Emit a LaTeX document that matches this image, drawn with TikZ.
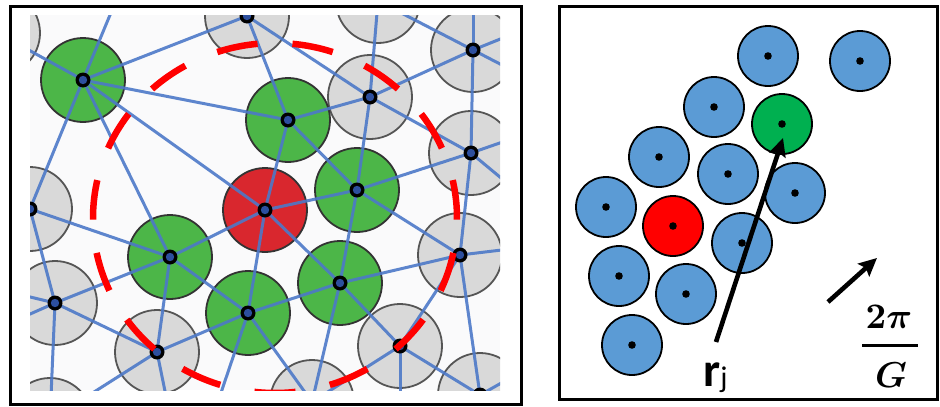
\documentclass[tikz,border=0pt]{standalone}
\usepackage{fontspec}
\usepackage{graphicx}
\usepackage{bm}
\newfontfamily\calibri{Carlito}
\usetikzlibrary{arrows.meta}
\definecolor{lgray}{HTML}{D9D9D9}
\definecolor{lgrayedge}{HTML}{555555}
\definecolor{lgreen}{HTML}{4CB648}
\definecolor{lred}{HTML}{D9272E}
\definecolor{darkedge}{HTML}{333333}
\definecolor{bondblue}{HTML}{4D79C8}
\definecolor{siteblue}{HTML}{2D4F9E}
\definecolor{dashred}{HTML}{FF0000}
\definecolor{panelbg}{HTML}{FAFAFB}
\definecolor{rblue}{HTML}{5B9BD5}
\definecolor{rgreen}{HTML}{00B050}
\definecolor{rred}{HTML}{FF0000}
\begin{document}
\begin{tikzpicture}[x=1pt,y=-1pt,
  cell/.style={circle, minimum size=84pt, inner sep=0pt, line width=1.8pt},
  graycell/.style={cell, fill=lgray, draw=lgrayedge},
  greencell/.style={cell, fill=lgreen, draw=darkedge},
  redcell/.style={cell, fill=lred, draw=darkedge},
  bond/.style={draw=bondblue, line width=3pt, opacity=0.9},
  atom/.style={circle, minimum size=60pt, inner sep=0pt, line width=1.8pt, draw=black},
  blueatom/.style={atom, fill=rblue},
  greenatom/.style={atom, fill=rgreen},
  redatom/.style={atom, fill=rred},
  frame/.style={draw=black, line width=3pt},
  vec/.style={line width=4.6pt, -{Stealth[length=18pt,width=17pt,inset=3pt]}},
  reddash/.style={draw=dashred, line width=6.5pt},
]
\useasboundingbox (0,0) rectangle (940,407);
\fill[white] (0,0) rectangle (940,407);

% ---------------- left panel ----------------
\begin{scope}
\clip (30,15) rectangle (500,390);
\fill[panelbg] (30,15) rectangle (500,390);
\node[graycell] (A) at (-2,33) {};
\node[graycell] (C) at (247,16) {};
\node[graycell] (D) at (378,1) {};
\node[graycell] (E) at (473,50) {};
\node[graycell] (F) at (370,97) {};
\node[graycell] (H) at (471,153) {};
\node[graycell] (J) at (30,209) {};
\node[graycell] (M) at (460,255) {};
\node[graycell] (N) at (55,303) {};
\node[graycell] (P) at (157,352) {};
\node[graycell] (Q) at (400,346) {};
\node[graycell] (S) at (50,420) {};
\node[graycell] (T) at (312,402) {};
\node[graycell] (U) at (480,395) {};
\node[greencell] (B) at (83,80) {};
\node[greencell] (G) at (288,120) {};
\node[greencell] (I) at (357,190) {};
\node[greencell] (K) at (170,257) {};
\node[greencell] (L) at (340,283) {};
\node[greencell] (O) at (248,313) {};
\node[redcell] (R) at (265,210) {};
\coordinate (g1) at (137,-50);
\coordinate (gN1) at (-40,280);
\coordinate (gN2) at (-40,345);
\coordinate (gE0) at (473,-60);
\coordinate (gE1) at (560,15);
\coordinate (gE2) at (560,95);
\coordinate (gH1) at (560,122);
\coordinate (gH2) at (560,227);
\coordinate (gM) at (560,243);
\coordinate (gU) at (560,350);
\coordinate (gQ) at (400,450);
\coordinate (gY) at (205,440);
\coordinate (gW) at (175,440);
\foreach \a/\b in {B/A,B/g1,B/C,B/G,B/R,B/K,B/J,
  C/G,C/F,D/F,D/E,E/F,E/H,E/gE0,E/gE1,E/gE2,
  F/G,F/H,F/I,G/I,G/R,H/I,H/M,H/gH1,H/gH2,
  I/R,I/M,I/L,R/K,R/O,R/L,K/J,K/N,K/P,K/O,J/N,
  L/O,L/M,L/Q,L/T,M/Q,M/U,M/gM,N/P,N/S,N/gN1,N/gN2,
  O/P,O/T,O/gY,P/S,P/gW,Q/T,Q/U,Q/gQ,U/gU}
  {\draw[bond] (\a.center) -- (\b.center);}
\foreach \n in {A,B,C,D,E,F,G,H,I,J,K,L,M,N,O,P,Q,R,S,T,U}
  {\fill[black] (\n.center) circle (7.5); \fill[siteblue] (\n.center) circle (4.2);}
\foreach \k in {0,...,14}{
  \pgfmathsetmacro\cc{102+24*\k}
  \draw[reddash] plot[domain=\cc-6.5:\cc+6.5, samples=12] ({275+182*cos(\x)},{218-175*sin(\x)});
}
\end{scope}
\draw[frame] (10,6) rectangle (521,404);

% ---------------- right panel ----------------
\draw[frame] (559,6) rectangle (937,399);
\node[blueatom] (c1) at (768,56) {};
\node[blueatom] (c2) at (860,61) {};
\node[blueatom] (c3) at (714,107) {};
\node[greenatom] (c4) at (782,124) {};
\node[blueatom] (c5) at (659,157) {};
\node[blueatom] (c6) at (728,174) {};
\node[blueatom] (c7) at (795,193) {};
\node[blueatom] (c8) at (606,207) {};
\node[redatom] (c9) at (673,226) {};
\node[blueatom] (c10) at (742,243) {};
\node[blueatom] (c11) at (619,276) {};
\node[blueatom] (c12) at (686,294) {};
\node[blueatom] (c13) at (632,345) {};
\foreach \n in {c1,c2,c3,c4,c5,c6,c7,c8,c9,c10,c11,c12,c13}
  {\fill[black] (\n.center) circle (3.8);}
\coordinate (rtail) at (716,342);
\coordinate (rtip) at (783,138);
\draw[vec] (rtail) -- (rtip);
\coordinate (gtail) at (828,302);
\coordinate (gtip) at (877,258);
\draw[vec] (gtail) -- (gtip);
\node[anchor=base west, inner sep=0pt] (rj) at (703,386)
  {\calibri\fontsize{48}{48}\selectfont\bfseries r\raisebox{-1pt}{\mdseries\fontsize{30}{30}\selectfont j}};
\node[anchor=base, inner sep=0pt] (num) at (889,328)
  {\scalebox{3.6}{$\bm{2\pi}$}};
\coordinate (barL) at (862,345);
\coordinate (barR) at (918,345);
\draw[line width=3pt] (barL) -- (barR);
\node[anchor=base, inner sep=0pt] (den) at (891,387)
  {\scalebox{3.6}{$\bm{G}$}};
\end{tikzpicture}
\end{document}
